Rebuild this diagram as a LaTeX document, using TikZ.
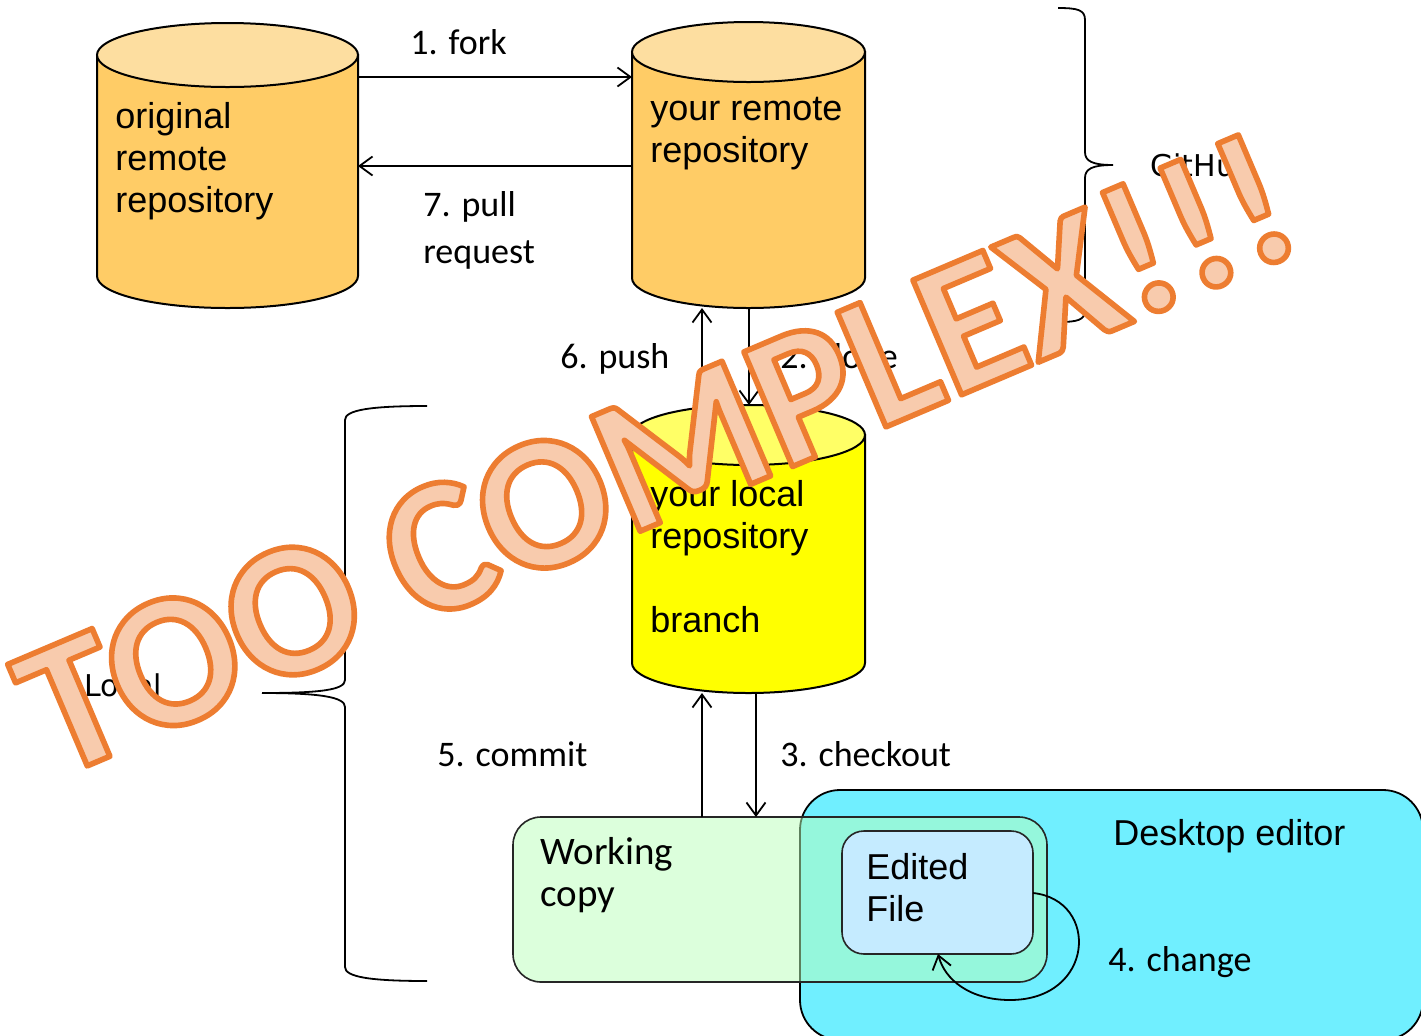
\documentclass[tikz,border=0pt]{standalone}
\usepackage{fontspec}
\setmainfont{Liberation Sans}
\newfontfamily\calib{Carlito}
\newfontfamily\dvs{DejaVu Sans}
\usetikzlibrary{arrows.meta}
\definecolor{orgbody}{HTML}{FFCC66}
\definecolor{orgtop}{HTML}{FDDEA0}
\definecolor{ylwbody}{HTML}{FFFF00}
\definecolor{ylwtop}{HTML}{FFFF66}
\definecolor{wcfill}{RGB}{187,255,187}
\definecolor{deskfill}{HTML}{70EFFF}
\definecolor{filefill}{HTML}{C5EBFF}
\definecolor{wmfill}{HTML}{F8CBAD}
\newcommand\mycyl[7]{%
  \path[cylline,fill=#6] (#1,#3) -- (#1,#4) arc[start angle=180,end angle=0,x radius={(#2-#1)/2},y radius=#5] -- (#2,#3) -- cycle;
  \draw[cylline,fill=#7] ({(#1+#2)/2},#3) ellipse[x radius={(#2-#1)/2},y radius=#5];}
\begin{document}
\begin{tikzpicture}[x=0.5pt,y=-0.5pt,
  cylline/.style={draw=black,line width=1pt},
  arr/.style={-{Straight Barb[length=6.5pt,width=9.5pt]},line width=0.9pt},
  steplbl/.style={anchor=base west,inner sep=0pt,font=\calib\fontsize{18}{23.5}\selectfont,align=left},
  repolbl/.style={anchor=base west,inner sep=0pt,font=\fontsize{18}{21}\selectfont,align=left},
  sidelbl/.style={anchor=base west,inner sep=0pt,font=\dvs\fontsize{15}{18}\selectfont},
  holder/.style={inner sep=0pt,outer sep=0pt},
  bracepath/.style={draw=black,line width=0.9pt},
  boxline/.style={draw=black!85,line width=0.8pt}]
\fill[white] (0,0) rectangle (1421,1035);
\useasboundingbox (0,0) rectangle (1421,1035);

% cylinders
\mycyl{97}{358}{55}{276}{32}{orgbody}{orgtop}
\mycyl{632}{865}{52}{278}{30}{orgbody}{orgtop}
\mycyl{632}{865}{435}{663}{30}{ylwbody}{ylwtop}
\node[holder,minimum width=130.5pt,minimum height=142.5pt] (orig) at (227.5,165.5) {};
\node[holder,minimum width=116.5pt,minimum height=143pt] (remote) at (748.5,165) {};
\node[holder,minimum width=116.5pt,minimum height=144pt] (local) at (748.5,549) {};

\node[repolbl] (origtxt) at (115,212) {original\\remote\\repository};
\node[repolbl] (remotetxt) at (650,162) {your remote\\repository};
\node[repolbl] (localtxt) at (650,632) {your local\\repository\\[21pt]branch};

% boxes
\begin{scope}
\clip (0,0) rectangle (1421,1035);
\node[draw=black,line width=0.9pt,fill=deskfill,rounded corners=20pt,minimum width=311.5pt,minimum height=125pt,holder] (desk) at (1111.5,915) {};
\end{scope}
\node[boxline,fill=wcfill,fill opacity=0.5,rounded corners=14pt,minimum width=267pt,minimum height=82.5pt,holder] (wc) at (780,899.5) {};
\node[boxline,fill=filefill,rounded corners=11pt,minimum width=95.5pt,minimum height=61.5pt,holder] (file) at (937.5,892.5) {};
\node[repolbl] (desktxt) at (1113,845) {Desktop editor};
\node[repolbl] (filetxt) at (866,921) {Edited\\File};
\node[anchor=base west,inner sep=0pt,font=\calib\fontsize{19.5}{21}\selectfont,align=left] (wctxt) at (540,906) {Working\\copy};

% connectors
\draw[arr] (orig.east |- 0,77) -- (remote.west |- 0,77);
\draw[arr] (remote.west |- 0,166) -- (orig.east |- 0,166);
\draw[arr] (local.north -| 702,0) -- (remote.south -| 702,0);
\draw[arr] (remote.south -| 749,0) -- (local.north -| 749,0);
\draw[arr] (wc.north -| 702,0) -- (local.south -| 702,0);
\draw[arr] (local.south -| 756,0) -- (wc.north -| 756,0);
\draw[arr] (file.east |- 0,893) .. controls (1100,900) and (1095,1000) .. (1010,1000) .. controls (970,1000) and (945,980) .. (file.south -| 938,0);

\node[steplbl] (l1) at (410,54) {1. fork};
\node[steplbl] (l7) at (423,263) {7. pull\\request};
\node[steplbl] (l6) at (560,368) {6. push};
\node[steplbl] (l2) at (780,368) {2. clone};
\node[steplbl] (l5) at (437,766) {5. commit};
\node[steplbl] (l3) at (780,766) {3. checkout};
\node[steplbl] (l4) at (1108,971) {4. change};

% braces
\draw[bracepath] (1058,8) .. controls (1078,8) and (1085,10) .. (1085,20) -- (1085,152) .. controls (1085,161) and (1092,165) .. (1113,165) .. controls (1092,165) and (1085,169) .. (1085,178) -- (1085,310) .. controls (1085,320) and (1078,322) .. (1058,322);
\node[sidelbl] (github) at (1150,176) {GitHub};
\draw[bracepath] (427,406) .. controls (370,406) and (345,410) .. (345,420) -- (345,680) .. controls (345,690) and (320,693) .. (262,693) .. controls (320,693) and (345,697) .. (345,707) -- (345,967) .. controls (345,977) and (370,981) .. (427,981);
\node[sidelbl] (localside) at (84,696) {Local};

% stamp
\node[rotate=23,inner sep=0pt,text=wmfill,font=\calib\bfseries\fontsize{96}{96}\selectfont] (stamp) at (656,454) {\special{pdf:literal direct 2 Tr 1 j 2.8 w 0.929 0.490 0.192 RG}TOO COMPLEX!!!\special{pdf:literal direct 0 Tr}};
\end{tikzpicture}
\end{document}
